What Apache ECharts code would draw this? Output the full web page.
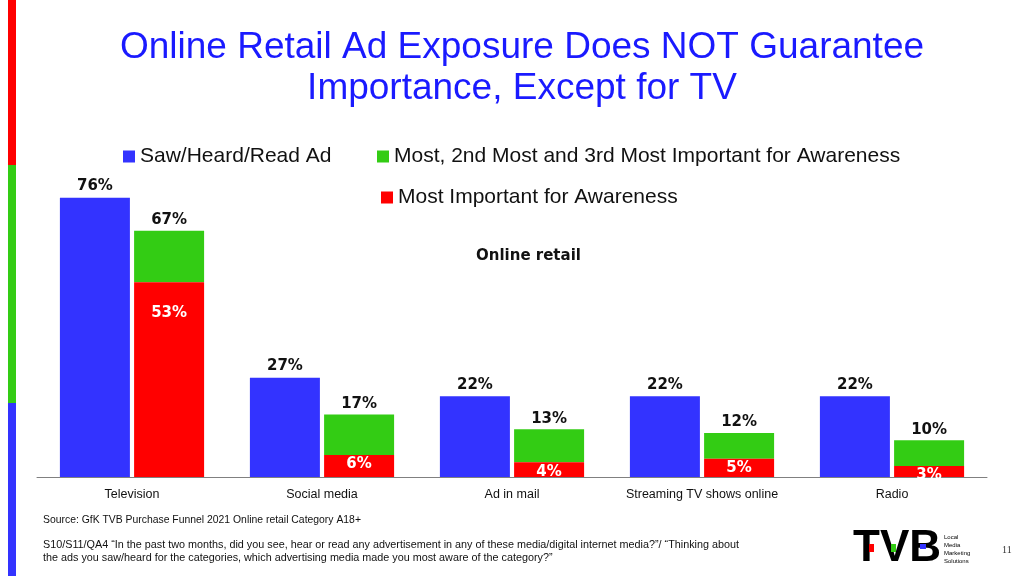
<!DOCTYPE html>
<html><head><meta charset="utf-8">
<script src="https://cdn.jsdelivr.net/npm/echarts@6/dist/echarts.min.js"></script>
<style>html,body{margin:0;padding:0;background:#fff}#c{width:1024px;height:576px}</style>
</head><body><div id="c"></div>
<script>
const categories = ['Television', 'Social media', 'Ad in mail', 'Streaming TV shows online', 'Radio'];
const sawAd = [76, 27, 22, 22, 22];
const top3Important = [67, 17, 13, 12, 10];
const mostImportant = [53, 6, 4, 5, 3];
const seriesNames = ['Saw/Heard/Read Ad', 'Most, 2nd Most and 3rd Most Important for Awareness', 'Most Important for Awareness'];

const chart = echarts.init(document.getElementById('c'));
const lblFont = 'DejaVu Sans';
const legendText = { fontSize: 21, fontFamily: 'Liberation Sans', color: '#111' };
chart.setOption({
  animation: false,
  title: {
    text: 'Online Retail Ad Exposure Does NOT Guarantee\nImportance, Except for TV',
    left: 517, top: 22, textAlign: 'center',
    textStyle: { color: '#1a1aff', fontSize: 37, fontWeight: 'normal', fontFamily: 'Liberation Sans', lineHeight: 41 }
  },
  legend: [
    { data: [seriesNames[0]], left: 118, top: 141, itemWidth: 12, itemHeight: 12, icon: 'rect', itemGap: 6, textStyle: legendText },
    { data: [seriesNames[1]], left: 372, top: 141, itemWidth: 12, itemHeight: 12, icon: 'rect', textStyle: legendText },
    { data: [seriesNames[2]], left: 376, top: 182, itemWidth: 12, itemHeight: 12, icon: 'rect', textStyle: legendText }
  ],
  grid: { left: 37, right: 37, top: 183, bottom: 99 },
  xAxis: {
    type: 'category', data: categories,
    axisTick: { show: false },
    axisLine: { lineStyle: { color: '#808080', width: 1 } },
    axisLabel: { interval: 0, fontSize: 12.5, fontFamily: 'Liberation Sans', color: '#111', margin: 11 }
  },
  yAxis: { type: 'value', min: 0, max: 80, show: false, splitLine: { show: false } },
  series: [
    { name: seriesNames[0], type: 'bar', data: sawAd, barWidth: 70, barGap: '6%',
      itemStyle: { color: '#3333ff' },
      label: { show: true, position: 'top', distance: 4, formatter: '{c}%', fontSize: 15, fontWeight: 'bold', fontFamily: lblFont, color: '#111' } },
    { name: seriesNames[2], type: 'bar', stack: 'imp', barWidth: 70, barGap: '6%',
      data: mostImportant.map((v, i) => i === 0 ? { value: v, label: { distance: 23 } } : v),
      itemStyle: { color: '#ff0000' }, z: 3,
      label: { show: true, position: 'insideTop', distance: 2, formatter: '{c}%', fontSize: 15, fontWeight: 'bold', fontFamily: lblFont, color: '#fff' } },
    { name: seriesNames[1], type: 'bar', stack: 'imp', barWidth: 70, barGap: '6%',
      data: top3Important.map((v, i) => v - mostImportant[i]),
      itemStyle: { color: '#33cc14' },
      label: { show: true, position: 'top', distance: 3, formatter: p => top3Important[p.dataIndex] + '%', fontSize: 15, fontWeight: 'bold', fontFamily: lblFont, color: '#111' } }
  ],
  graphic: [
    { type: 'rect', shape: { x: 8, y: 0, width: 8, height: 165 }, style: { fill: '#ff0000' } },
    { type: 'rect', shape: { x: 8, y: 165, width: 8, height: 238 }, style: { fill: '#33cc14' } },
    { type: 'rect', shape: { x: 8, y: 403, width: 8, height: 173 }, style: { fill: '#3333ff' } },
    { type: 'text', left: 476, top: 249, style: { text: 'Online retail', fontSize: 15, fontWeight: 'bold', fontFamily: lblFont, fill: '#111' } },
    { type: 'text', left: 43, top: 515, style: { text: 'Source: GfK TVB Purchase Funnel 2021 Online retail Category A18+', fontSize: 10.4, fontFamily: 'Liberation Sans', fill: '#111' } },
    { type: 'text', left: 43, top: 539, style: { text: 'S10/S11/QA4 \u201cIn the past two months, did you see, hear or read any advertisement in any of these media/digital internet media?\u201d/ \u201cThinking about\nthe ads you saw/heard for the categories, which advertising media made you most aware of the category?\u201d', fontSize: 10.8, lineHeight: 13, fontFamily: 'Liberation Sans', fill: '#111' } },
    { type: 'text', left: 1002, top: 545, style: { text: '11', fontSize: 10, fontFamily: 'Liberation Serif', fill: '#333' } },
    { type: 'text', left: 853, top: 527, style: { text: 'TVB', fontSize: 44, fontWeight: 'bold', fontFamily: 'Liberation Sans', fill: '#000', lineHeight: 44 } },
    { type: 'rect', shape: { x: 869, y: 544, width: 5, height: 8 }, style: { fill: '#ff0000' } },
    { type: 'rect', shape: { x: 891, y: 544, width: 5, height: 8 }, style: { fill: '#33cc14' } },
    { type: 'rect', shape: { x: 920, y: 544, width: 6, height: 5 }, style: { fill: '#3333ff' } },
    { type: 'text', left: 944, top: 533, style: { text: 'Local\nMedia\nMarketing\nSolutions', fontSize: 6, lineHeight: 8, fontFamily: 'Liberation Sans', fill: '#000' } }
  ]
});
</script></body></html>
